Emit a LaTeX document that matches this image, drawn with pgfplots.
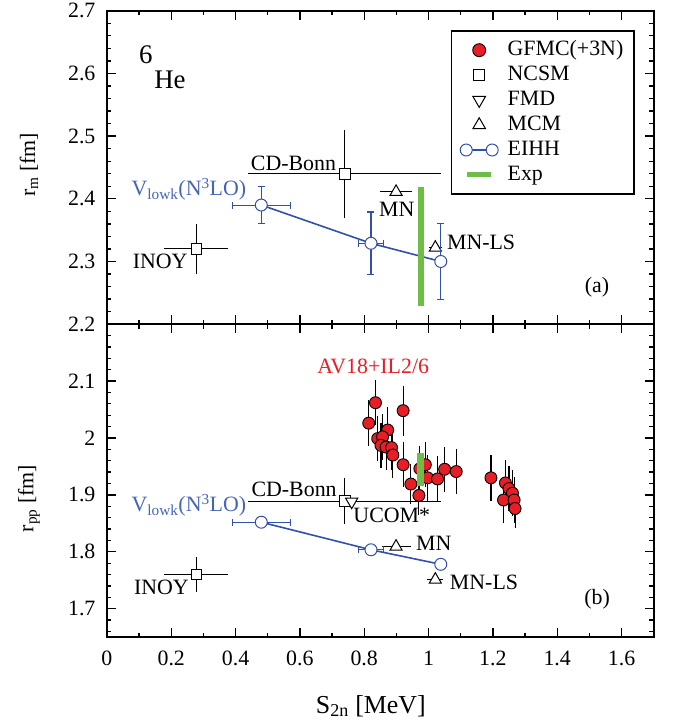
\documentclass[border=0pt]{standalone}
\usepackage{pgfplots}
\pgfplotsset{compat=1.18}
\usepackage{fontspec}
\setmainfont{Liberation Serif}
\definecolor{gfmcred}{RGB}{232,30,38}
\definecolor{eihhblue}{RGB}{50,80,170}
\definecolor{vblue}{RGB}{70,100,185}
\definecolor{expgreen}{RGB}{110,190,70}
\tikzset{lbl/.style={inner sep=0pt, font=\fontsize{22}{26}\selectfont}}
\pgfplotsset{
  panel/.style={
    scale only axis, width=547.7bp,
    xmin=0, xmax=1.7,
    clip marker paths=true,
    xtick={0,0.2,0.4,0.6,0.8,1,1.2,1.4,1.6}, minor x tick num=1,
    axis line style={line width=1.8bp},
    every tick/.append style={line width=1.3bp, black},
    major tick length=9bp, minor tick length=4.5bp,
    /pgf/number format/assume math mode=true,
    tick label style={font=\fontsize{22}{26}\selectfont},
    label style={font=\fontsize{22}{26}\selectfont},
    yticklabel style={xshift=-8bp},
    xticklabel style={yshift=-10bp},
  },
  errs/.style={
    error bars/x dir=both, error bars/x explicit,
    error bars/y dir=both, error bars/y explicit,
  },
  blackerr/.style={errs, error bars/error mark=none,
    error bars/error bar style={line width=1.1bp, black}},
  ncsm/.style={blackerr, only marks, mark=square*, mark size=5.3bp,
    mark options={fill=white, draw=black, line width=1bp}},
  mcm/.style={blackerr, only marks, mark=triangle*, mark size=7bp,
    mark options={fill=white, draw=black, line width=1bp}},
  fmd/.style={only marks, mark=triangle*, mark size=7bp,
    mark options={fill=white, draw=black, line width=1bp, rotate=180}},
  eihherr/.style={errs, only marks, mark=none, eihhblue,
    error bars/error bar style={line width=1.1bp, eihhblue},
    error bars/error mark options={rotate=90, mark size=3.5bp, line width=1.1bp, eihhblue}},
  eihh/.style={eihhblue, line width=1.6bp, mark=*, mark size=6bp,
    mark options={fill=white, draw=eihhblue, line width=1bp}},
  gfmc/.style={only marks, mark=*, mark size=6bp,
    mark options={fill=gfmcred, draw=black, line width=0.9bp},
    error bars/y dir=both, error bars/y explicit, error bars/error mark=none,
    error bars/error bar style={line width=1.1bp, black}},
  expbar/.style={expgreen, line width=6.5bp},
  eihhleg/.style={eihhblue, line width=1.6bp, mark=*, mark size=6bp,
    mark options={fill=white, draw=eihhblue, line width=1bp},
    legend image code/.code={\draw[##1] plot coordinates {(-4.5bp,0bp) (21.5bp,0bp)};}},
  expleg/.style={expgreen, line width=5bp,
    legend image code/.code={\draw[##1] (-3.5bp,0bp) -- (20.5bp,0bp);}},
}
\begin{document}
\begin{tikzpicture}[font=\fontsize{22}{26}\selectfont]
% ---------------- top panel (a)
\begin{axis}[panel, at={(0,0)}, anchor=south west, height=314bp,
  ymin=2.2, ymax=2.7, ytick={2.2,2.3,2.4,2.5,2.6,2.7}, minor y tick num=4,
  xticklabels={},
  ylabel={r\textsubscript{m} [fm]},
  ylabel style={at={(axis description cs:-0.1426,0.508)}, anchor=center},
  legend style={at={(axis description cs:0.965,0.937)}, anchor=north east,
    draw=black, line width=1.5bp, inner xsep=8.5bp, inner ysep=6.5bp,
    column sep=7.5bp, font=\fontsize{22}{26}\selectfont,
    nodes={text height=16bp, text depth=5bp, inner sep=2bp},
    cells={anchor=west}},
]
\addlegendimage{only marks, mark=*, mark size=6.5bp, mark options={fill=gfmcred, draw=black, line width=0.9bp}}
\addlegendentry{GFMC(+3N)}
\addlegendimage{only marks, mark=square*, mark size=5.6bp, mark options={fill=white, draw=black, line width=1bp}}
\addlegendentry{NCSM}
\addlegendimage{only marks, mark=triangle*, mark size=7.3bp, mark options={fill=white, draw=black, line width=1bp, rotate=180}}
\addlegendentry{FMD}
\addlegendimage{only marks, mark=triangle*, mark size=7.3bp, mark options={fill=white, draw=black, line width=1bp}}
\addlegendentry{MCM}
\addlegendimage{eihhleg}
\addlegendentry{EIHH}
\addlegendimage{expleg}
\addlegendentry{Exp}

\addplot[ncsm, forget plot] coordinates {
  (0.278,2.32) +- (0.10,0.04)
  (0.74,2.44)  +- (0.30,0.07)
};
\addplot[mcm, forget plot] coordinates {
  (0.899,2.411) +- (0.05,0)
  (1.021,2.322) +- (0.02,0)
};
\addplot[eihherr, forget plot] coordinates {
  (0.48,2.39)   +- (0.09,0.03)
  (0.821,2.329) +- (0.04,0.05)
  (1.038,2.30)  +- (0,0.06)
};
\addplot[eihh, forget plot] coordinates {
  (0.48,2.39) (0.821,2.329) (1.038,2.30)
};
\addplot[expbar, forget plot] coordinates {(0.976,2.229) (0.976,2.419)};

\node[lbl, anchor=base, font=\fontsize{27}{30}\selectfont] at (axis cs:0.121,2.6164) {6};
\node[lbl, anchor=base, font=\fontsize{27}{30}\selectfont] at (axis cs:0.196,2.5766) {He};
\node[lbl, anchor=base] at (axis cs:0.58,2.4444) {CD-Bonn};
\node[lbl, anchor=base west, text=vblue] at (axis cs:0.076,2.4046) {V\textsubscript{lowk}(N\textsuperscript{3}LO)};
\node[lbl, anchor=base east] at (axis cs:0.251,2.2884) {INOY};
\node[lbl, anchor=base] at (axis cs:0.901,2.3712) {MN};
\node[lbl, anchor=base west] at (axis cs:1.057,2.3186) {MN-LS};
\node[lbl, anchor=base] at (axis cs:1.524,2.2502) {(a)};
\end{axis}
% ---------------- bottom panel (b)
\begin{axis}[panel, at={(0,0)}, anchor=north west, height=313.5bp,
  ymin=1.65, ymax=2.2, ytick={1.7,1.8,1.9,2,2.1},
  minor ytick={1.66,1.68,1.72,1.74,1.76,1.78,1.82,1.84,1.86,1.88,1.92,1.94,1.96,1.98,2.02,2.04,2.06,2.08,2.12,2.14,2.16,2.18},
  ylabel={r\textsubscript{pp} [fm]},
  ylabel style={at={(axis description cs:-0.1426,0.443)}, anchor=center},
  xlabel={S\textsubscript{2n} [MeV]},
  xlabel style={at={(axis description cs:0.4827,-0.2424)}, anchor=base, font=\fontsize{26}{30}\selectfont},
]
\addplot[ncsm] coordinates {
  (0.278,1.76)  +- (0.10,0.03)
  (0.74,1.889)  +- (0.30,0.04)
};
\addplot[fmd] coordinates {(0.761,1.888)};
\addplot[mcm] coordinates {
  (0.899,1.809) +- (0.045,0)
  (1.021,1.751) +- (0.025,0)
};
\addplot[eihherr] coordinates {
  (0.48,1.852)   +- (0.09,0)
  (0.821,1.8035) +- (0.04,0)
};
\addplot[eihh] coordinates {
  (0.48,1.852) (0.821,1.8035) (1.038,1.778)
};
\addplot[gfmc] coordinates {
  (0.814,2.026) +- (0,0.04)
  (0.835,2.062) +- (0,0.04)
  (0.921,2.048) +- (0,0.044)
  (0.873,2.014) +- (0,0.04)
  (0.842,1.999) +- (0,0.04)
  (0.857,2.002) +- (0,0.04)
  (0.852,1.987) +- (0,0.04)
  (0.868,1.984) +- (0,0.04)
  (0.885,1.983) +- (0,0.04)
  (0.889,1.970) +- (0,0.04)
  (0.921,1.953) +- (0,0.04)
  (0.945,1.919) +- (0,0.035)
  (0.970,1.899) +- (0,0.035)
  (0.973,1.946) +- (0,0.04)
  (0.990,1.953) +- (0,0.04)
  (0.997,1.930) +- (0,0.04)
  (1.028,1.928) +- (0,0.04)
  (1.050,1.945) +- (0,0.04)
  (1.086,1.941) +- (0,0.04)
  (1.194,1.930) +- (0,0.04)
  (1.239,1.921) +- (0,0.04)
  (1.250,1.911) +- (0,0.04)
  (1.261,1.903) +- (0,0.04)
  (1.233,1.891) +- (0,0.04)
  (1.266,1.891) +- (0,0.04)
  (1.269,1.876) +- (0,0.035)
};
\addplot[expbar] coordinates {(0.975,1.915) (0.975,1.974)};

\node[lbl, anchor=base, text=gfmcred] at (axis cs:0.828,2.114) {AV18+IL2/6};
\node[lbl, anchor=base] at (axis cs:0.582,1.8965) {CD-Bonn};
\node[lbl, anchor=base west, text=vblue] at (axis cs:0.076,1.8707) {V\textsubscript{lowk}(N\textsuperscript{3}LO)};
\node[lbl, anchor=base east] at (axis cs:0.255,1.7246) {INOY};
\node[lbl, anchor=base west] at (axis cs:0.766,1.851) {UCOM*};
\node[lbl, anchor=base west] at (axis cs:0.961,1.8018) {MN};
\node[lbl, anchor=base west] at (axis cs:1.066,1.7333) {MN-LS};
\node[lbl, anchor=base] at (axis cs:1.524,1.707) {(b)};
\end{axis}
\path (-107.1bp,-399.5bp) rectangle (570.9bp,323.5bp);
\end{tikzpicture}
\end{document}
